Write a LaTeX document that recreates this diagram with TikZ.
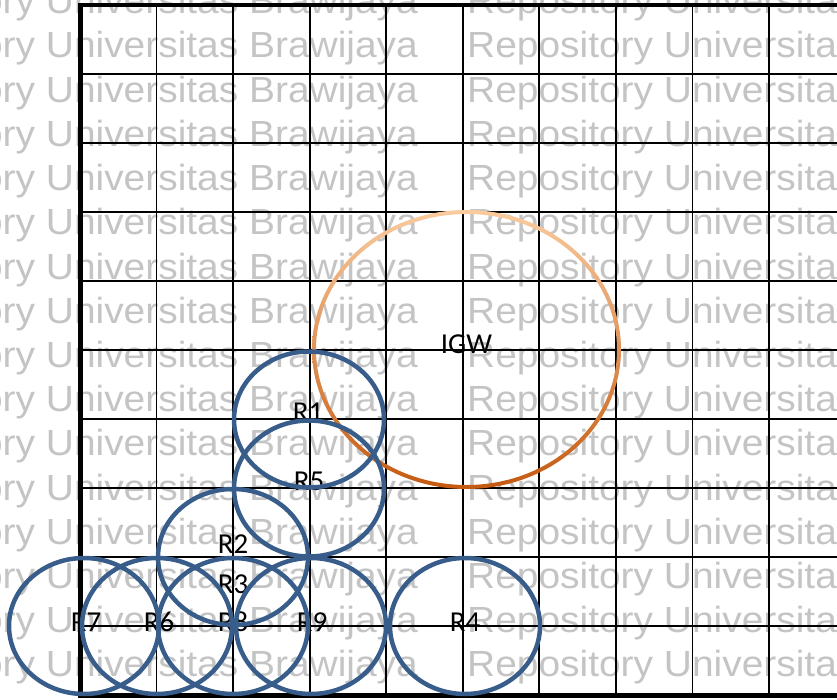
\documentclass[tikz,border=0pt]{standalone}
\usepackage{fontspec}
\usetikzlibrary{shapes.geometric}
\newfontfamily\wmfont{Liberation Sans}
\newfontfamily\lblfont{Carlito}
\definecolor{wmgray}{HTML}{C4C4C4}
\definecolor{rblue}{HTML}{385D8A}
\definecolor{igwtop}{HTML}{FACB9E}
\definecolor{igwbot}{HTML}{C55A11}
\begin{document}
\begin{tikzpicture}[x=1bp,y=-1bp,
  wm/.style={anchor=base west, inner sep=0pt, text=wmgray, font=\wmfont\fontsize{36.5}{40}\selectfont},
  gridline/.style={line width=1.8bp, black},
  border/.style={line width=4.5bp, black},
  rcirc/.style={ellipse, draw=rblue, line width=4.5bp, minimum width=150bp, minimum height=136bp, inner sep=0pt},
  lbl/.style={anchor=base, inner sep=0pt, font=\lblfont\fontsize{29}{34}\selectfont}]
\useasboundingbox (0,0) rectangle (837,700);
\clip (0,0) rectangle (837,700);
% watermark
\foreach \k in {-1,...,14} {
  \node[wm] (wmA\k) at (-151, 58+44.2*\k) {\scalebox{1.07}[1]{Repository Universitas Brawijaya}};
  \node[wm] (wmB\k) at (467, 58+44.2*\k) {\scalebox{1.07}[1]{Repository Universitas Brawijaya}};
}
% grid
\foreach \i in {1,...,9} {
  \draw[gridline] (80+76.55*\i, 5) -- (80+76.55*\i, 695.5);
  \draw[gridline] (80, 5+69*\i) -- (837, 5+69*\i);
}
\draw[border] (837,5) -- (78,5);
\draw[border] (80.5,3) -- (80.5,698);
\draw[border] (78,695.5) -- (837,695.5);
% IGW ellipse with gradient stroke
\shade[top color=igwtop, bottom color=igwbot, even odd rule]
  (466.5,349.5) ellipse [x radius=154.5, y radius=139.5]
  (466.5,349.5) ellipse [x radius=150.5, y radius=135.5];
% labels
\node[lbl] (lIGW) at (466.5,353) {IGW};
\node[lbl] (lR1) at (308,421) {R1};
\node[lbl] (lR5) at (309,490) {R5};
\node[lbl] (lR2) at (233,553) {R2};
\node[lbl] (lR3) at (233,593) {R3};
\node[lbl] (lR7) at (86,631) {R7};
\node[lbl] (lR6) at (159,631) {R6};
\node[lbl] (lR8) at (233,631) {R8};
\node[lbl] (lR9) at (312,631) {R9};
\node[lbl] (lR4) at (465,631) {R4};
% blue circles
\node[rcirc] (c1) at (309,419.5) {};
\node[rcirc] (c5) at (309,488.5) {};
\node[rcirc] (c2) at (233,557) {};
\node[rcirc] (c7) at (84,626) {};
\node[rcirc] (c6) at (157,626) {};
\node[rcirc] (c8) at (233,626) {};
\node[rcirc] (c9) at (311,626) {};
\node[rcirc] (c4) at (465,626) {};
\end{tikzpicture}
\end{document}
